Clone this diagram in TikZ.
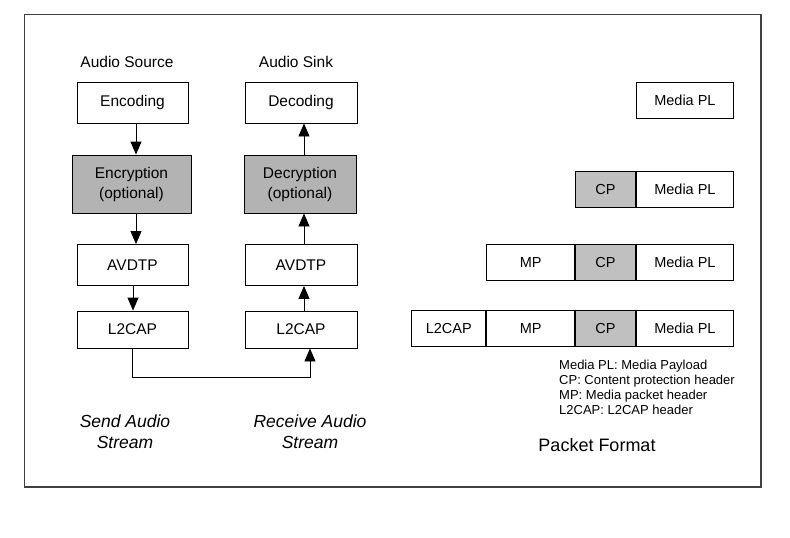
\documentclass[tikz,border=0pt]{standalone}
\usepackage{fontspec}
\setmainfont{Liberation Sans}
\usetikzlibrary{arrows.meta}
\definecolor{darkgr}{HTML}{B3B3B3}
\definecolor{lightgr}{HTML}{C0C0C0}
\begin{document}
\begin{tikzpicture}[x=1pt,y=-1pt,
  stack/.style={draw,line width=0.9pt,font=\fontsize{15.5}{20}\selectfont,align=center,inner sep=0pt},
  pkt/.style={draw,line width=0.9pt,font=\fontsize{14.5}{17}\selectfont,inner sep=0pt},
  lbl/.style={font=\fontsize{15.5}{20}\selectfont,inner sep=0pt},
  itl/.style={font=\fontsize{17.5}{21}\selectfont\itshape,align=center,inner sep=0pt},
  arr/.style={line width=0.9pt,-{Triangle[width=11pt,length=13pt]}}]
\useasboundingbox (0,0) rectangle (790,538);
\draw[line width=1.3pt,draw=black!75] (24.5,14.5) rectangle (761,487);
% left column
\node[lbl] (srcl) at (127,61.5) {Audio Source};
\node[stack,minimum width=111,minimum height=41] (enc) at (132.5,102.5) {Encoding};
\node[stack,fill=darkgr,minimum width=119,minimum height=58] (encr) at (131.5,184) {Encryption\\(optional)};
\node[stack,minimum width=111,minimum height=41] (avl) at (132.5,265) {AVDTP};
\node[stack,minimum width=111,minimum height=37] (l2l) at (132.5,329.5) {L2CAP};
% right column
\node[lbl] (sinkl) at (296,61.5) {Audio Sink};
\node[stack,minimum width=112,minimum height=41] (dec) at (301,102.5) {Decoding};
\node[stack,fill=darkgr,minimum width=112,minimum height=58] (decr) at (300,184) {Decryption\\(optional)};
\node[stack,minimum width=112,minimum height=41] (avr) at (301,265) {AVDTP};
\node[stack,minimum width=112,minimum height=37] (l2r) at (301,329.5) {L2CAP};
% arrows
\draw[arr] (enc.south -| 136,0) -- (encr.north -| 136,0);
\draw[arr] (encr.south -| 136,0) -- (avl.north -| 136,0);
\draw[arr] (avl.south -| 133,0) -- (l2l.north -| 133,0);
\draw[arr] (decr.north -| 304,0) -- (dec.south -| 304,0);
\draw[arr] (avr.north -| 304,0) -- (decr.south -| 304,0);
\draw[arr] (l2r.north -| 304,0) -- (avr.south -| 304,0);
\coordinate (c1) at (132,377);
\coordinate (c2) at (310,377);
\draw[arr] (l2l.south -| c1) -- (c1) -- (c2) -- (l2r.south -| c2);
% captions
\node[itl] (send) at (125,432) {Send Audio\\Stream};
\node[itl] (recv) at (310,432) {Receive Audio\\Stream};
% packet format
\node[pkt,minimum width=97,minimum height=36,anchor=north west] (r1pl) at (636,82) {Media PL};
\node[pkt,minimum width=97,minimum height=36,anchor=north west] (r2pl) at (636,171) {Media PL};
\node[pkt,fill=lightgr,minimum width=60,minimum height=36,anchor=north east] (r2cp) at (r2pl.north west) {CP};
\node[pkt,minimum width=97,minimum height=36,anchor=north west] (r3pl) at (636,244) {Media PL};
\node[pkt,fill=lightgr,minimum width=60,minimum height=36,anchor=north east] (r3cp) at (r3pl.north west) {CP};
\node[pkt,minimum width=88,minimum height=36,anchor=north east] (r3mp) at (r3cp.north west) {MP};
\node[pkt,minimum width=97,minimum height=36,anchor=north west] (r4pl) at (636,310) {Media PL};
\node[pkt,fill=lightgr,minimum width=60,minimum height=36,anchor=north east] (r4cp) at (r4pl.north west) {CP};
\node[pkt,minimum width=88,minimum height=36,anchor=north east] (r4mp) at (r4cp.north west) {MP};
\node[pkt,minimum width=74,minimum height=36,anchor=north east] (r4l2) at (r4mp.north west) {L2CAP};
\node[anchor=north west,align=left,inner sep=0pt,font=\fontsize{13}{15}\selectfont] (legend) at (559,360) {Media PL: Media Payload\\CP: Content protection header\\MP: Media packet header\\L2CAP: L2CAP header};
\node[font=\fontsize{18}{21}\selectfont,inner sep=0pt] (pf) at (597,445) {Packet Format};
\end{tikzpicture}
\end{document}
